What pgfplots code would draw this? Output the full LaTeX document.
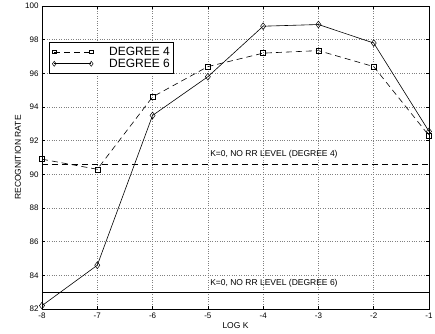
\documentclass[border=0pt]{standalone}
\usepackage{pgfplots}
\pgfplotsset{compat=1.18}
\usepackage{fontspec}
\setmainfont{Liberation Sans}
\begin{document}
\begin{tikzpicture}
\begin{axis}[
  at={(0pt,0pt)}, anchor=south west,
  scale only axis, width=387pt, height=303pt,
  xmin=-8, xmax=-1, ymin=82, ymax=100,
  xtick={-8,-7,-6,-5,-4,-3,-2,-1},
  ytick={82,84,86,88,90,92,94,96,98,100},
  grid=major,
  grid style={dotted, gray, line width=0.5pt},
  tick align=inside, major tick length=3pt,
  tick style={black, line width=0.5pt},
  axis line style={line width=0.8pt},
  /pgf/number format/assume math mode=true,
  tick label style={font=\fontsize{8}{9}\selectfont},
  xlabel={LOG K}, ylabel={RECOGNITION RATE},
  label style={font=\fontsize{8.5}{9}\selectfont},
  xlabel style={at={(axis description cs:0.5,-0.0561)}, anchor=center},
  ylabel style={at={(axis description cs:-0.062,0.5)}, anchor=center},
  legend style={at={(axis description cs:0.018,0.881)}, anchor=north west,
    font=\fontsize{12}{10.7}\selectfont, draw=black, line width=0.8pt,
    inner xsep=3pt, inner ysep=3.5pt,
    nodes={inner sep=1pt},
    /tikz/every odd column/.append style={column sep=15pt}},
  legend cell align=left,
  legend image code/.code={\draw[line width=0.6pt] plot coordinates {(0pt,0pt) (37pt,0pt)};},
]
\addplot[black, line width=0.6pt, dash pattern=on 6pt off 4pt, mark=square,
  mark size=2.5pt, mark options={solid, line width=0.5pt},
  legend image post style={mark size=1.6pt}]
  coordinates {(-8,90.9) (-7,90.3) (-6,94.6) (-5,96.4) (-4,97.2) (-3,97.35) (-2,96.4) (-1,92.3)};
\addlegendentry{DEGREE 4}
\addplot[black, line width=0.6pt, mark=diamond,
  mark size=3.4pt, mark options={solid, line width=0.5pt},
  legend image post style={mark size=2.5pt}]
  coordinates {(-8,82.2) (-7,84.6) (-6,93.5) (-5,95.8) (-4,98.8) (-3,98.9) (-2,97.8) (-1,92.55)};
\addlegendentry{DEGREE 6}
\addplot[black, line width=0.7pt, dash pattern=on 6pt off 4pt, forget plot]
  coordinates {(-8,90.6) (-1,90.6)};
\addplot[black, line width=0.7pt, forget plot]
  coordinates {(-8,83.0) (-1,83.0)};
\node[anchor=west, inner sep=0pt, font=\fontsize{8.5}{9}\selectfont] at (axis cs:-4.96,91.2) {K=0, NO RR LEVEL (DEGREE 4)};
\node[anchor=west, inner sep=0pt, font=\fontsize{8.5}{9}\selectfont] at (axis cs:-4.96,83.55) {K=0, NO RR LEVEL (DEGREE 6)};
\end{axis}
\pgfresetboundingbox
\path (-42pt,-24pt) rectangle (393pt,309pt);
\end{tikzpicture}
\end{document}
